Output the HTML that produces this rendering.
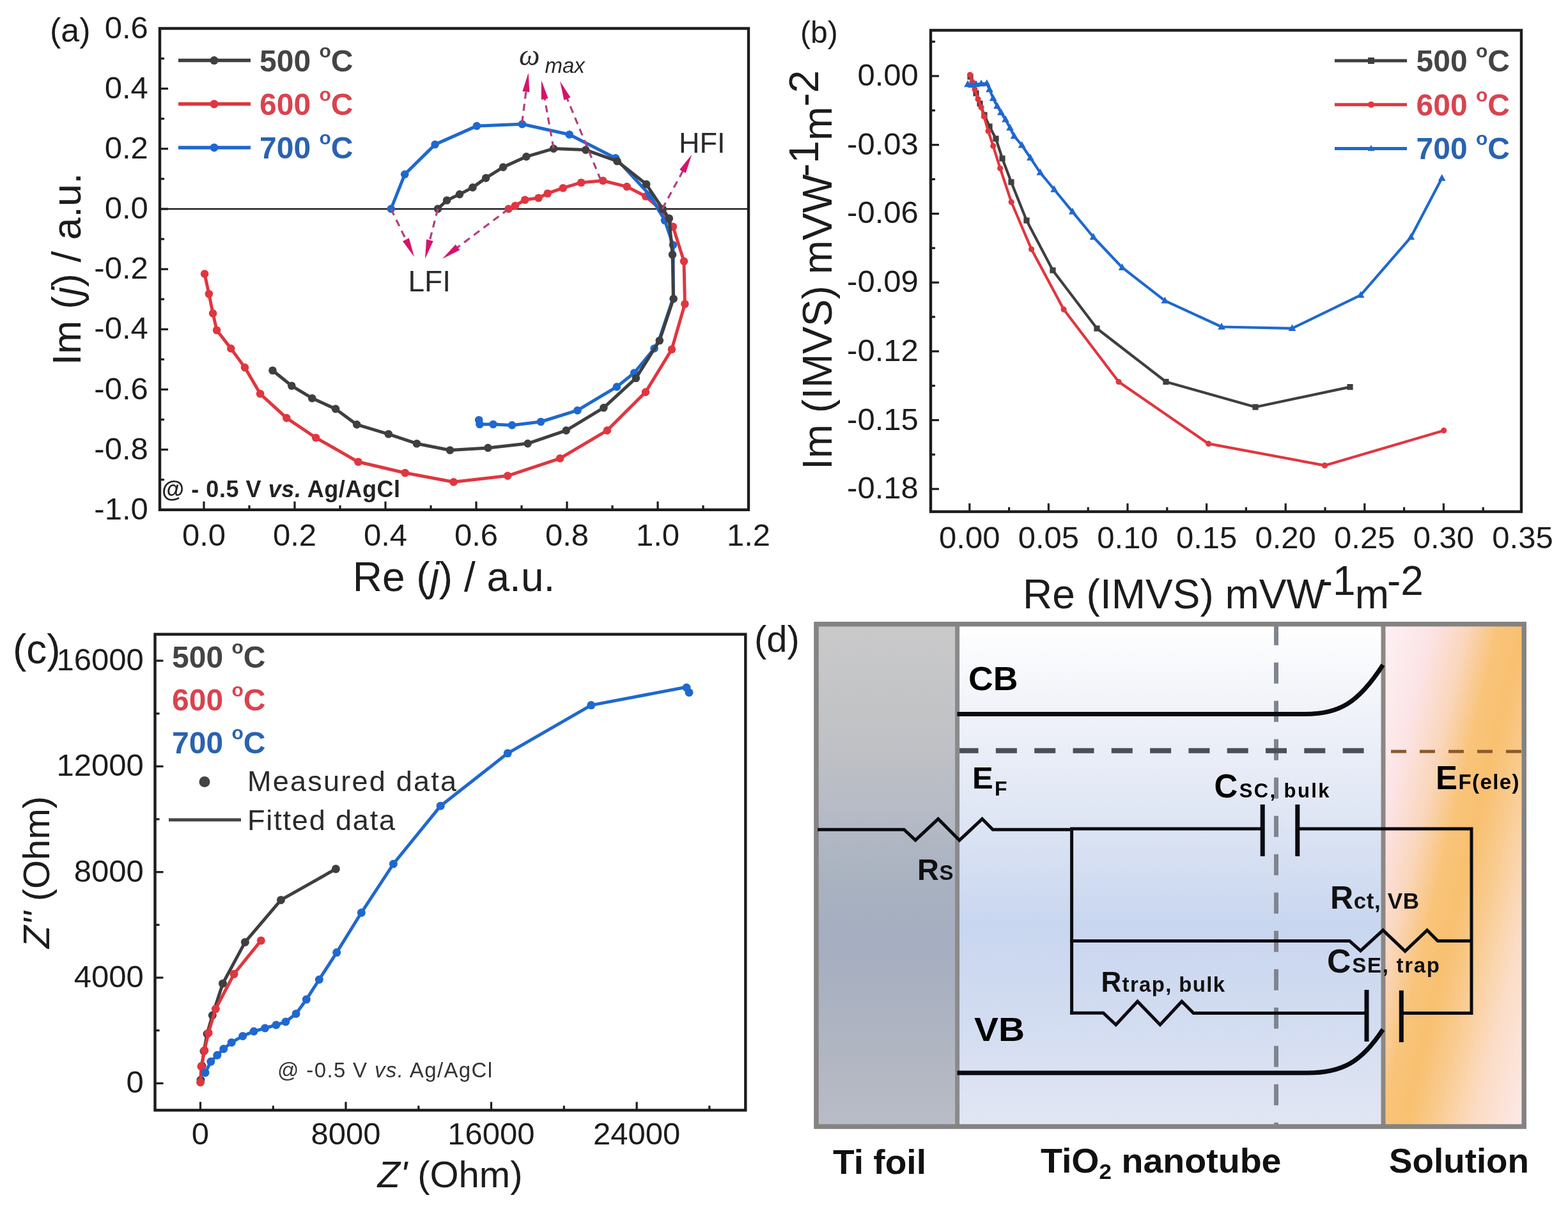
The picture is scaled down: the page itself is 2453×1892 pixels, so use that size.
<!DOCTYPE html><html><head><meta charset="utf-8"><title>Figure</title><style>html,body{margin:0;padding:0;background:#fff;overflow:hidden;width:2453px;height:1892px;}svg{display:block;}</style></head><body>
<svg width="2453" height="1892" viewBox="0 0 2453 1892">
<rect width="2453" height="1892" fill="#fff"/>
<defs>
<linearGradient id="gTi" x1="0" y1="0" x2="0" y2="1">
 <stop offset="0" stop-color="#c9c9ca"/><stop offset="0.16" stop-color="#c3c4c6"/>
 <stop offset="0.26" stop-color="#bec0c5"/><stop offset="0.37" stop-color="#b6bbc6"/>
 <stop offset="0.51" stop-color="#a9b2c0"/><stop offset="0.64" stop-color="#a5aec1"/>
 <stop offset="0.73" stop-color="#aab1c0"/><stop offset="0.86" stop-color="#b1b6c2"/>
 <stop offset="1" stop-color="#b8bcc6"/>
</linearGradient>
<linearGradient id="gTiO2" x1="0" y1="0" x2="0" y2="1">
 <stop offset="0" stop-color="#ffffff"/><stop offset="0.15" stop-color="#f2f4fa"/>
 <stop offset="0.38" stop-color="#dfe6f4"/><stop offset="0.6" stop-color="#c8d6ef"/>
 <stop offset="0.8" stop-color="#d3ddf1"/><stop offset="1" stop-color="#e2e6f3"/>
</linearGradient>
<linearGradient id="gSol" gradientUnits="userSpaceOnUse" x1="2077.7" y1="1325.2" x2="2457.3" y2="1414.8">
 <stop offset="0" stop-color="#fdf2f4"/><stop offset="0.2" stop-color="#fce4e6"/>
 <stop offset="0.34" stop-color="#fad6bc"/><stop offset="0.46" stop-color="#f9c47a"/>
 <stop offset="0.56" stop-color="#f8c070"/><stop offset="0.66" stop-color="#f9ca8c"/>
 <stop offset="0.82" stop-color="#fbdcc4"/><stop offset="1" stop-color="#fde8e6"/>
</linearGradient>
</defs>
<rect x="1277" y="976.7" width="220.5999999999999" height="786.3" fill="url(#gTi)"/>
<rect x="1497.6" y="976.7" width="666.4000000000001" height="786.3" fill="url(#gTiO2)"/>
<rect x="2164" y="976.7" width="220.19999999999982" height="786.3" fill="url(#gSol)"/>
<line x1="1996.5" y1="976.7" x2="1996.5" y2="1763" stroke="#7f858f" stroke-width="7" stroke-dasharray="33 27"/>
<line x1="1497.6" y1="1174.8" x2="2164" y2="1174.8" stroke="#4b5058" stroke-width="8" stroke-dasharray="33 27.3"/>
<line x1="2176" y1="1176" x2="2383" y2="1176" stroke="#8b5a2b" stroke-width="5" stroke-dasharray="24 21"/>
<line x1="1497.6" y1="976.7" x2="1497.6" y2="1763" stroke="#8a8a8a" stroke-width="7" />
<line x1="2164" y1="976.7" x2="2164" y2="1763" stroke="#8c8781" stroke-width="7" />
<rect x="1277" y="976.7" width="1107.1999999999998" height="786.3" fill="none" stroke="#848382" stroke-width="7.5"/>
<path d="M1497.5,1117.6 H2040 C2095,1118 2125,1100 2163.5,1040.5" fill="none" stroke="#0b0b10" stroke-width="7" stroke-linejoin="round"/>
<path d="M1497.5,1679 H2045 C2100,1679 2130,1662 2163.5,1611" fill="none" stroke="#0b0b10" stroke-width="7" stroke-linejoin="round"/>
<path d="M1279,1298.2 H1414.3 L1432.1,1314.9 L1467.7,1281.6 L1501,1314.9 L1536.5,1281.6 L1553.1,1298.2 H1678" fill="none" stroke="#0b0b10" stroke-width="5" stroke-linejoin="miter"/>
<path d="M1676.6,1296 V1587.5" fill="none" stroke="#0b0b10" stroke-width="5" stroke-linejoin="miter"/>
<path d="M1674,1297 H1975.2 M2029.8,1297 H2302 V1588" fill="none" stroke="#0b0b10" stroke-width="5" stroke-linejoin="miter"/>
<path d="M1975.2,1259 V1340 M2029.8,1259 V1340" fill="none" stroke="#0b0b10" stroke-width="7" stroke-linejoin="miter"/>
<path d="M1674,1472.4 H2111.2 L2128.5,1487.9 L2163.6,1455.7 L2198.1,1488.5 L2232.6,1455.7 L2249.3,1472.4 H2304" fill="none" stroke="#0b0b10" stroke-width="5" stroke-linejoin="miter"/>
<path d="M1674,1585.3 H1726.1 L1745.7,1603.7 L1779.6,1567.2 L1814.9,1603.7 L1848.8,1567.2 L1867.1,1585.4 H2137.5" fill="none" stroke="#0b0b10" stroke-width="5" stroke-linejoin="miter"/>
<path d="M2138,1549 V1630 M2192.3,1550 V1631" fill="none" stroke="#0b0b10" stroke-width="7" stroke-linejoin="miter"/>
<path d="M2192.3,1585.5 H2304" fill="none" stroke="#0b0b10" stroke-width="5" stroke-linejoin="miter"/>
<text x="1515" y="1079.6" font-size="52" text-anchor="start" font-weight="bold" font-style="normal" fill="#000" font-family='"Liberation Sans", Arial, Helvetica, sans-serif' textLength="77.5" lengthAdjust="spacingAndGlyphs">CB</text>
<text x="1521" y="1233.7" font-size="49" text-anchor="start" font-weight="bold" font-style="normal" fill="#000" font-family='"Liberation Sans", Arial, Helvetica, sans-serif' textLength="54.5">E<tspan font-size="32" dy="11">F</tspan></text>
<text x="1899.5" y="1248.4" font-size="51" text-anchor="start" font-weight="bold" font-style="normal" fill="#000" font-family='"Liberation Sans", Arial, Helvetica, sans-serif' textLength="180">C<tspan font-size="31">SC, bulk</tspan></text>
<text x="2246" y="1235.4" font-size="51" text-anchor="start" font-weight="bold" font-style="normal" fill="#000" font-family='"Liberation Sans", Arial, Helvetica, sans-serif' textLength="130.5">E<tspan font-size="33">F(ele)</tspan></text>
<text x="1435" y="1376.6" font-size="47" text-anchor="start" font-weight="bold" font-style="normal" fill="#111" font-family='"Liberation Sans", Arial, Helvetica, sans-serif' >R<tspan font-size="33" dx="0.5">S</tspan></text>
<text x="2081" y="1421.8" font-size="50" text-anchor="start" font-weight="bold" font-style="normal" fill="#111" font-family='"Liberation Sans", Arial, Helvetica, sans-serif' textLength="139">R<tspan font-size="35">ct, VB</tspan></text>
<text x="2076" y="1522" font-size="52" text-anchor="start" font-weight="bold" font-style="normal" fill="#111" font-family='"Liberation Sans", Arial, Helvetica, sans-serif' textLength="176">C<tspan font-size="33">SE, trap</tspan></text>
<text x="1722.5" y="1551.5" font-size="44" text-anchor="start" font-weight="bold" font-style="normal" fill="#111" font-family='"Liberation Sans", Arial, Helvetica, sans-serif' textLength="193.5">R<tspan font-size="33">trap, bulk</tspan></text>
<text x="1524" y="1628.5" font-size="51" text-anchor="start" font-weight="bold" font-style="normal" fill="#000" font-family='"Liberation Sans", Arial, Helvetica, sans-serif' textLength="79" lengthAdjust="spacingAndGlyphs">VB</text>
<text x="1303" y="1836.8" font-size="54" text-anchor="start" font-weight="bold" font-style="normal" fill="#111" font-family='"Liberation Sans", Arial, Helvetica, sans-serif' textLength="146" lengthAdjust="spacingAndGlyphs">Ti foil</text>
<text x="1628" y="1835.2" font-size="54" text-anchor="start" font-weight="bold" font-style="normal" fill="#111" font-family='"Liberation Sans", Arial, Helvetica, sans-serif' textLength="376.5" lengthAdjust="spacingAndGlyphs">TiO<tspan font-size="34" dy="10">2</tspan><tspan dy="-10"> nanotube</tspan></text>
<text x="2173" y="1835.2" font-size="54" text-anchor="start" font-weight="bold" font-style="normal" fill="#111" font-family='"Liberation Sans", Arial, Helvetica, sans-serif' textLength="219" lengthAdjust="spacingAndGlyphs">Solution</text>
<text x="1180" y="1019.5" font-size="58" text-anchor="start" font-weight="normal" font-style="normal" fill="#1c1c1c" font-family='"Liberation Sans", Arial, Helvetica, sans-serif' >(d)</text>
<line x1="250" y1="327" x2="1171" y2="327" stroke="#1c1c1c" stroke-width="2.6" />
<line x1="250" y1="750.7" x2="257" y2="750.7" stroke="#1c1c1c" stroke-width="3.2" />
<line x1="250" y1="703.6" x2="263" y2="703.6" stroke="#1c1c1c" stroke-width="3.2" />
<line x1="250" y1="656.6" x2="257" y2="656.6" stroke="#1c1c1c" stroke-width="3.2" />
<line x1="250" y1="609.5" x2="263" y2="609.5" stroke="#1c1c1c" stroke-width="3.2" />
<line x1="250" y1="562.4" x2="257" y2="562.4" stroke="#1c1c1c" stroke-width="3.2" />
<line x1="250" y1="515.3" x2="263" y2="515.3" stroke="#1c1c1c" stroke-width="3.2" />
<line x1="250" y1="468.2" x2="257" y2="468.2" stroke="#1c1c1c" stroke-width="3.2" />
<line x1="250" y1="421.2" x2="263" y2="421.2" stroke="#1c1c1c" stroke-width="3.2" />
<line x1="250" y1="374.1" x2="257" y2="374.1" stroke="#1c1c1c" stroke-width="3.2" />
<line x1="250" y1="327" x2="263" y2="327" stroke="#1c1c1c" stroke-width="3.2" />
<line x1="250" y1="279.9" x2="257" y2="279.9" stroke="#1c1c1c" stroke-width="3.2" />
<line x1="250" y1="232.8" x2="263" y2="232.8" stroke="#1c1c1c" stroke-width="3.2" />
<line x1="250" y1="185.8" x2="257" y2="185.8" stroke="#1c1c1c" stroke-width="3.2" />
<line x1="250" y1="138.7" x2="263" y2="138.7" stroke="#1c1c1c" stroke-width="3.2" />
<line x1="250" y1="91.6" x2="257" y2="91.6" stroke="#1c1c1c" stroke-width="3.2" />
<line x1="319" y1="797.8" x2="319" y2="784.8" stroke="#1c1c1c" stroke-width="3.2" />
<line x1="390" y1="797.8" x2="390" y2="790.8" stroke="#1c1c1c" stroke-width="3.2" />
<line x1="461" y1="797.8" x2="461" y2="784.8" stroke="#1c1c1c" stroke-width="3.2" />
<line x1="532" y1="797.8" x2="532" y2="790.8" stroke="#1c1c1c" stroke-width="3.2" />
<line x1="603" y1="797.8" x2="603" y2="784.8" stroke="#1c1c1c" stroke-width="3.2" />
<line x1="674" y1="797.8" x2="674" y2="790.8" stroke="#1c1c1c" stroke-width="3.2" />
<line x1="745" y1="797.8" x2="745" y2="784.8" stroke="#1c1c1c" stroke-width="3.2" />
<line x1="816" y1="797.8" x2="816" y2="790.8" stroke="#1c1c1c" stroke-width="3.2" />
<line x1="887" y1="797.8" x2="887" y2="784.8" stroke="#1c1c1c" stroke-width="3.2" />
<line x1="958" y1="797.8" x2="958" y2="790.8" stroke="#1c1c1c" stroke-width="3.2" />
<line x1="1029" y1="797.8" x2="1029" y2="784.8" stroke="#1c1c1c" stroke-width="3.2" />
<line x1="1100" y1="797.8" x2="1100" y2="790.8" stroke="#1c1c1c" stroke-width="3.2" />
<rect x="250" y="44.5" width="921" height="753.3" fill="none" stroke="#1c1c1c" stroke-width="4.4"/>
<text x="231.8" y="812.8" font-size="49" text-anchor="end" font-weight="normal" font-style="normal" fill="#1c1c1c" font-family='"Liberation Sans", Arial, Helvetica, sans-serif' >-1.0</text>
<text x="231.8" y="718.6" font-size="49" text-anchor="end" font-weight="normal" font-style="normal" fill="#1c1c1c" font-family='"Liberation Sans", Arial, Helvetica, sans-serif' >-0.8</text>
<text x="231.8" y="624.5" font-size="49" text-anchor="end" font-weight="normal" font-style="normal" fill="#1c1c1c" font-family='"Liberation Sans", Arial, Helvetica, sans-serif' >-0.6</text>
<text x="231.8" y="530.3" font-size="49" text-anchor="end" font-weight="normal" font-style="normal" fill="#1c1c1c" font-family='"Liberation Sans", Arial, Helvetica, sans-serif' >-0.4</text>
<text x="231.8" y="436.2" font-size="49" text-anchor="end" font-weight="normal" font-style="normal" fill="#1c1c1c" font-family='"Liberation Sans", Arial, Helvetica, sans-serif' >-0.2</text>
<text x="231.8" y="342" font-size="49" text-anchor="end" font-weight="normal" font-style="normal" fill="#1c1c1c" font-family='"Liberation Sans", Arial, Helvetica, sans-serif' >0.0</text>
<text x="231.8" y="247.8" font-size="49" text-anchor="end" font-weight="normal" font-style="normal" fill="#1c1c1c" font-family='"Liberation Sans", Arial, Helvetica, sans-serif' >0.2</text>
<text x="231.8" y="153.7" font-size="49" text-anchor="end" font-weight="normal" font-style="normal" fill="#1c1c1c" font-family='"Liberation Sans", Arial, Helvetica, sans-serif' >0.4</text>
<text x="231.8" y="59.5" font-size="49" text-anchor="end" font-weight="normal" font-style="normal" fill="#1c1c1c" font-family='"Liberation Sans", Arial, Helvetica, sans-serif' >0.6</text>
<text x="319" y="854.3" font-size="49" text-anchor="middle" font-weight="normal" font-style="normal" fill="#1c1c1c" font-family='"Liberation Sans", Arial, Helvetica, sans-serif' >0.0</text>
<text x="461" y="854.3" font-size="49" text-anchor="middle" font-weight="normal" font-style="normal" fill="#1c1c1c" font-family='"Liberation Sans", Arial, Helvetica, sans-serif' >0.2</text>
<text x="603" y="854.3" font-size="49" text-anchor="middle" font-weight="normal" font-style="normal" fill="#1c1c1c" font-family='"Liberation Sans", Arial, Helvetica, sans-serif' >0.4</text>
<text x="745" y="854.3" font-size="49" text-anchor="middle" font-weight="normal" font-style="normal" fill="#1c1c1c" font-family='"Liberation Sans", Arial, Helvetica, sans-serif' >0.6</text>
<text x="887" y="854.3" font-size="49" text-anchor="middle" font-weight="normal" font-style="normal" fill="#1c1c1c" font-family='"Liberation Sans", Arial, Helvetica, sans-serif' >0.8</text>
<text x="1029" y="854.3" font-size="49" text-anchor="middle" font-weight="normal" font-style="normal" fill="#1c1c1c" font-family='"Liberation Sans", Arial, Helvetica, sans-serif' >1.0</text>
<text x="1171" y="854.3" font-size="49" text-anchor="middle" font-weight="normal" font-style="normal" fill="#1c1c1c" font-family='"Liberation Sans", Arial, Helvetica, sans-serif' >1.2</text>
<text x="710" y="925" font-size="64" text-anchor="middle" font-weight="normal" font-style="normal" fill="#1c1c1c" font-family='"Liberation Sans", Arial, Helvetica, sans-serif' >Re (<tspan font-style="italic">j</tspan>) / a.u.</text>
<text transform="translate(126,421) rotate(-90)" font-size="63" text-anchor="middle" fill="#1c1c1c" font-family='"Liberation Sans", Arial, Helvetica, sans-serif'>Im (<tspan font-style="italic">j</tspan>) / a.u.</text>
<text x="78" y="64.5" font-size="52" text-anchor="start" font-weight="normal" font-style="normal" fill="#1c1c1c" font-family='"Liberation Sans", Arial, Helvetica, sans-serif' >(a)</text>
<polyline points="795.6,326.9 806,322 821.2,312.7 842.5,309.8 856.7,302.7 880.8,294.2 909.2,285.7 943.2,282.8 980.7,292.1 1010.2,307.3 1034,328 1052.9,354.8 1070,408.9 1071.4,475.7 1050.9,546.7 1010,613.6 949.9,673.6 876.1,717.3 794.2,744.6 709.6,754.2 633.7,740 560.4,722.8 494.1,685 448.3,654.1 407.1,616.3 383,575.1 361.3,545.4 339.1,516.8 333.1,490.4 326.9,460 320.1,428.6" fill="none" stroke="#e0363f" stroke-width="5" stroke-linejoin="round" stroke-linecap="round"/>
<circle cx="795.6" cy="326.9" r="6.3" fill="#e0363f"/>
<circle cx="806" cy="322" r="6.3" fill="#e0363f"/>
<circle cx="821.2" cy="312.7" r="6.3" fill="#e0363f"/>
<circle cx="842.5" cy="309.8" r="6.3" fill="#e0363f"/>
<circle cx="856.7" cy="302.7" r="6.3" fill="#e0363f"/>
<circle cx="880.8" cy="294.2" r="6.3" fill="#e0363f"/>
<circle cx="909.2" cy="285.7" r="6.3" fill="#e0363f"/>
<circle cx="943.2" cy="282.8" r="6.3" fill="#e0363f"/>
<circle cx="980.7" cy="292.1" r="6.3" fill="#e0363f"/>
<circle cx="1010.2" cy="307.3" r="6.3" fill="#e0363f"/>
<circle cx="1034" cy="328" r="6.3" fill="#e0363f"/>
<circle cx="1052.9" cy="354.8" r="6.3" fill="#e0363f"/>
<circle cx="1070" cy="408.9" r="6.3" fill="#e0363f"/>
<circle cx="1071.4" cy="475.7" r="6.3" fill="#e0363f"/>
<circle cx="1050.9" cy="546.7" r="6.3" fill="#e0363f"/>
<circle cx="1010" cy="613.6" r="6.3" fill="#e0363f"/>
<circle cx="949.9" cy="673.6" r="6.3" fill="#e0363f"/>
<circle cx="876.1" cy="717.3" r="6.3" fill="#e0363f"/>
<circle cx="794.2" cy="744.6" r="6.3" fill="#e0363f"/>
<circle cx="709.6" cy="754.2" r="6.3" fill="#e0363f"/>
<circle cx="633.7" cy="740" r="6.3" fill="#e0363f"/>
<circle cx="560.4" cy="722.8" r="6.3" fill="#e0363f"/>
<circle cx="494.1" cy="685" r="6.3" fill="#e0363f"/>
<circle cx="448.3" cy="654.1" r="6.3" fill="#e0363f"/>
<circle cx="407.1" cy="616.3" r="6.3" fill="#e0363f"/>
<circle cx="383" cy="575.1" r="6.3" fill="#e0363f"/>
<circle cx="361.3" cy="545.4" r="6.3" fill="#e0363f"/>
<circle cx="339.1" cy="516.8" r="6.3" fill="#e0363f"/>
<circle cx="333.1" cy="490.4" r="6.3" fill="#e0363f"/>
<circle cx="326.9" cy="460" r="6.3" fill="#e0363f"/>
<circle cx="320.1" cy="428.6" r="6.3" fill="#e0363f"/>
<polyline points="611.7,326.9 633.2,272.9 680.6,226.1 745.9,197.1 816.9,194.3 890.7,210.5 963.1,247.4 1017,305.6 1040,345 1052.9,383.3 1053.2,402 1053.2,466 1031,532 1023.6,545.3 992.2,583.5 964.9,605.4 903.4,642.2 846.1,660 801,665.4 771.5,664 750.5,664 749.2,657.2" fill="none" stroke="#1f68cf" stroke-width="5" stroke-linejoin="round" stroke-linecap="round"/>
<circle cx="611.7" cy="326.9" r="6.3" fill="#1f68cf"/>
<circle cx="633.2" cy="272.9" r="6.3" fill="#1f68cf"/>
<circle cx="680.6" cy="226.1" r="6.3" fill="#1f68cf"/>
<circle cx="745.9" cy="197.1" r="6.3" fill="#1f68cf"/>
<circle cx="816.9" cy="194.3" r="6.3" fill="#1f68cf"/>
<circle cx="890.7" cy="210.5" r="6.3" fill="#1f68cf"/>
<circle cx="963.1" cy="247.4" r="6.3" fill="#1f68cf"/>
<circle cx="1017" cy="305.6" r="6.3" fill="#1f68cf"/>
<circle cx="1040" cy="345" r="6.3" fill="#1f68cf"/>
<circle cx="1052.9" cy="383.3" r="6.3" fill="#1f68cf"/>
<circle cx="1023.6" cy="545.3" r="6.3" fill="#1f68cf"/>
<circle cx="992.2" cy="583.5" r="6.3" fill="#1f68cf"/>
<circle cx="964.9" cy="605.4" r="6.3" fill="#1f68cf"/>
<circle cx="903.4" cy="642.2" r="6.3" fill="#1f68cf"/>
<circle cx="846.1" cy="660" r="6.3" fill="#1f68cf"/>
<circle cx="801" cy="665.4" r="6.3" fill="#1f68cf"/>
<circle cx="771.5" cy="664" r="6.3" fill="#1f68cf"/>
<circle cx="750.5" cy="664" r="6.3" fill="#1f68cf"/>
<circle cx="749.2" cy="657.2" r="6.3" fill="#1f68cf"/>
<polyline points="684.9,326.9 699.1,313.5 719,304.1 739.4,293.4 760.1,278.6 787.1,261.6 823.4,245.1 866,232.6 916.3,234.6 965.5,252.2 1011.1,288.3 1036.8,327.2 1046.8,341.8 1052,398.5 1053.6,467.5 1031.8,533 994.9,591.7 944.4,638.1 885.7,673.6 825.6,694.1 763.4,700.9 704,704.5 652,694.2 607.8,679.3 558.2,664.4 525,639.9 488.3,623.2 456.3,603.8 426.5,579.7" fill="none" stroke="#3f3f3f" stroke-width="5" stroke-linejoin="round" stroke-linecap="round"/>
<circle cx="684.9" cy="326.9" r="6.3" fill="#3f3f3f"/>
<circle cx="699.1" cy="313.5" r="6.3" fill="#3f3f3f"/>
<circle cx="719" cy="304.1" r="6.3" fill="#3f3f3f"/>
<circle cx="739.4" cy="293.4" r="6.3" fill="#3f3f3f"/>
<circle cx="760.1" cy="278.6" r="6.3" fill="#3f3f3f"/>
<circle cx="787.1" cy="261.6" r="6.3" fill="#3f3f3f"/>
<circle cx="823.4" cy="245.1" r="6.3" fill="#3f3f3f"/>
<circle cx="866" cy="232.6" r="6.3" fill="#3f3f3f"/>
<circle cx="916.3" cy="234.6" r="6.3" fill="#3f3f3f"/>
<circle cx="965.5" cy="252.2" r="6.3" fill="#3f3f3f"/>
<circle cx="1011.1" cy="288.3" r="6.3" fill="#3f3f3f"/>
<circle cx="1036.8" cy="327.2" r="6.3" fill="#3f3f3f"/>
<circle cx="1046.8" cy="341.8" r="6.3" fill="#3f3f3f"/>
<circle cx="1052" cy="398.5" r="6.3" fill="#3f3f3f"/>
<circle cx="1053.6" cy="467.5" r="6.3" fill="#3f3f3f"/>
<circle cx="1031.8" cy="533" r="6.3" fill="#3f3f3f"/>
<circle cx="994.9" cy="591.7" r="6.3" fill="#3f3f3f"/>
<circle cx="944.4" cy="638.1" r="6.3" fill="#3f3f3f"/>
<circle cx="885.7" cy="673.6" r="6.3" fill="#3f3f3f"/>
<circle cx="825.6" cy="694.1" r="6.3" fill="#3f3f3f"/>
<circle cx="763.4" cy="700.9" r="6.3" fill="#3f3f3f"/>
<circle cx="704" cy="704.5" r="6.3" fill="#3f3f3f"/>
<circle cx="652" cy="694.2" r="6.3" fill="#3f3f3f"/>
<circle cx="607.8" cy="679.3" r="6.3" fill="#3f3f3f"/>
<circle cx="558.2" cy="664.4" r="6.3" fill="#3f3f3f"/>
<circle cx="525" cy="639.9" r="6.3" fill="#3f3f3f"/>
<circle cx="488.3" cy="623.2" r="6.3" fill="#3f3f3f"/>
<circle cx="456.3" cy="603.8" r="6.3" fill="#3f3f3f"/>
<circle cx="426.5" cy="579.7" r="6.3" fill="#3f3f3f"/>
<line x1="279" y1="94.6" x2="392" y2="94.6" stroke="#3f3f3f" stroke-width="5.5" />
<circle cx="335" cy="94.6" r="6.5" fill="#3f3f3f"/>
<text x="406" y="111.8" font-size="48" text-anchor="start" font-weight="bold" font-style="normal" fill="#444444" font-family='"Liberation Sans", Arial, Helvetica, sans-serif' >500 <tspan font-size="30" dy="-22">o</tspan><tspan dy="22">C</tspan></text>
<line x1="279" y1="162.8" x2="392" y2="162.8" stroke="#e0363f" stroke-width="5.5" />
<circle cx="335" cy="162.8" r="6.5" fill="#e0363f"/>
<text x="406" y="180" font-size="48" text-anchor="start" font-weight="bold" font-style="normal" fill="#d9434f" font-family='"Liberation Sans", Arial, Helvetica, sans-serif' >600 <tspan font-size="30" dy="-22">o</tspan><tspan dy="22">C</tspan></text>
<line x1="279" y1="231" x2="392" y2="231" stroke="#1f68cf" stroke-width="5.5" />
<circle cx="335" cy="231" r="6.5" fill="#1f68cf"/>
<text x="406" y="248.2" font-size="48" text-anchor="start" font-weight="bold" font-style="normal" fill="#2a62b0" font-family='"Liberation Sans", Arial, Helvetica, sans-serif' >700 <tspan font-size="30" dy="-22">o</tspan><tspan dy="22">C</tspan></text>
<text x="253" y="777.8" font-size="36" text-anchor="start" font-weight="bold" font-style="normal" fill="#222" font-family='"Liberation Sans", Arial, Helvetica, sans-serif' textLength="373" lengthAdjust="spacing">@ - 0.5 V <tspan font-style="italic">vs.</tspan> Ag/AgCl</text>
<text x="638.5" y="455.5" font-size="46" text-anchor="start" font-weight="normal" font-style="normal" fill="#2a2a2a" font-family='"Liberation Sans", Arial, Helvetica, sans-serif' >LFI</text>
<text x="1062" y="238.5" font-size="45" text-anchor="start" font-weight="normal" font-style="normal" fill="#2a2a2a" font-family='"Liberation Sans", Arial, Helvetica, sans-serif' >HFI</text>
<text x="812" y="102" font-size="46" text-anchor="start" font-weight="normal" font-style="italic" fill="#2a2a2a" font-family='"Liberation Serif", "Times New Roman", serif' >&#969;</text>
<text x="852.5" y="113.7" font-size="33" text-anchor="start" font-weight="normal" font-style="italic" fill="#2a2a2a" font-family='"Liberation Sans", Arial, Helvetica, sans-serif' >max</text>
<line x1="816.6" y1="192.3" x2="823.4" y2="139.5" stroke="#b2407e" stroke-width="3.2" stroke-dasharray="11 8"/>
<polygon points="826.7,113.7 828.3,144.2 817.4,142.8" fill="#d6136a"/>
<line x1="866" y1="232" x2="851.5" y2="151" stroke="#b2407e" stroke-width="3.2" stroke-dasharray="11 8"/>
<polygon points="846.9,125.4 857.6,154 846.8,155.9" fill="#d6136a"/>
<line x1="940" y1="282" x2="885.9" y2="151" stroke="#b2407e" stroke-width="3.2" stroke-dasharray="11 8"/>
<polygon points="876,127 892.5,152.6 882.4,156.8" fill="#d6136a"/>
<line x1="611.7" y1="326.9" x2="636.7" y2="378.6" stroke="#b2407e" stroke-width="3.2" stroke-dasharray="11 8"/>
<polygon points="648,402 630,377.4 639.9,372.6" fill="#d6136a"/>
<line x1="684.9" y1="326.9" x2="671.4" y2="379.8" stroke="#b2407e" stroke-width="3.2" stroke-dasharray="11 8"/>
<polygon points="665,405 667.1,374.6 677.7,377.3" fill="#d6136a"/>
<line x1="795.6" y1="327" x2="712.8" y2="389.4" stroke="#b2407e" stroke-width="3.2" stroke-dasharray="11 8"/>
<polygon points="692,405 712.7,382.6 719.3,391.3" fill="#d6136a"/>
<line x1="1036" y1="327" x2="1069.9" y2="264.6" stroke="#b2407e" stroke-width="3.2" stroke-dasharray="11 8"/>
<polygon points="1082.3,241.7 1072.8,270.7 1063.2,265.4" fill="#d6136a"/>
<line x1="1456" y1="765.2" x2="1469" y2="765.2" stroke="#1c1c1c" stroke-width="3.2" />
<line x1="1456" y1="711.3" x2="1463" y2="711.3" stroke="#1c1c1c" stroke-width="3.2" />
<line x1="1456" y1="657.5" x2="1469" y2="657.5" stroke="#1c1c1c" stroke-width="3.2" />
<line x1="1456" y1="603.7" x2="1463" y2="603.7" stroke="#1c1c1c" stroke-width="3.2" />
<line x1="1456" y1="549.8" x2="1469" y2="549.8" stroke="#1c1c1c" stroke-width="3.2" />
<line x1="1456" y1="495.9" x2="1463" y2="495.9" stroke="#1c1c1c" stroke-width="3.2" />
<line x1="1456" y1="442.1" x2="1469" y2="442.1" stroke="#1c1c1c" stroke-width="3.2" />
<line x1="1456" y1="388.2" x2="1463" y2="388.2" stroke="#1c1c1c" stroke-width="3.2" />
<line x1="1456" y1="334.4" x2="1469" y2="334.4" stroke="#1c1c1c" stroke-width="3.2" />
<line x1="1456" y1="280.5" x2="1463" y2="280.5" stroke="#1c1c1c" stroke-width="3.2" />
<line x1="1456" y1="226.7" x2="1469" y2="226.7" stroke="#1c1c1c" stroke-width="3.2" />
<line x1="1456" y1="172.8" x2="1463" y2="172.8" stroke="#1c1c1c" stroke-width="3.2" />
<line x1="1456" y1="119" x2="1469" y2="119" stroke="#1c1c1c" stroke-width="3.2" />
<line x1="1456" y1="65.2" x2="1463" y2="65.2" stroke="#1c1c1c" stroke-width="3.2" />
<line x1="1516.8" y1="800.7" x2="1516.8" y2="787.7" stroke="#1c1c1c" stroke-width="3.2" />
<line x1="1578.6" y1="800.7" x2="1578.6" y2="793.7" stroke="#1c1c1c" stroke-width="3.2" />
<line x1="1640.4" y1="800.7" x2="1640.4" y2="787.7" stroke="#1c1c1c" stroke-width="3.2" />
<line x1="1702.2" y1="800.7" x2="1702.2" y2="793.7" stroke="#1c1c1c" stroke-width="3.2" />
<line x1="1764" y1="800.7" x2="1764" y2="787.7" stroke="#1c1c1c" stroke-width="3.2" />
<line x1="1825.8" y1="800.7" x2="1825.8" y2="793.7" stroke="#1c1c1c" stroke-width="3.2" />
<line x1="1887.6" y1="800.7" x2="1887.6" y2="787.7" stroke="#1c1c1c" stroke-width="3.2" />
<line x1="1949.4" y1="800.7" x2="1949.4" y2="793.7" stroke="#1c1c1c" stroke-width="3.2" />
<line x1="2011.2" y1="800.7" x2="2011.2" y2="787.7" stroke="#1c1c1c" stroke-width="3.2" />
<line x1="2073" y1="800.7" x2="2073" y2="793.7" stroke="#1c1c1c" stroke-width="3.2" />
<line x1="2134.8" y1="800.7" x2="2134.8" y2="787.7" stroke="#1c1c1c" stroke-width="3.2" />
<line x1="2196.6" y1="800.7" x2="2196.6" y2="793.7" stroke="#1c1c1c" stroke-width="3.2" />
<line x1="2258.4" y1="800.7" x2="2258.4" y2="787.7" stroke="#1c1c1c" stroke-width="3.2" />
<line x1="2320.2" y1="800.7" x2="2320.2" y2="793.7" stroke="#1c1c1c" stroke-width="3.2" />
<rect x="1456" y="47.4" width="924" height="753.3" fill="none" stroke="#1c1c1c" stroke-width="4.4"/>
<text x="1436.8" y="134" font-size="49" text-anchor="end" font-weight="normal" font-style="normal" fill="#1c1c1c" font-family='"Liberation Sans", Arial, Helvetica, sans-serif' >0.00</text>
<text x="1436.8" y="241.7" font-size="49" text-anchor="end" font-weight="normal" font-style="normal" fill="#1c1c1c" font-family='"Liberation Sans", Arial, Helvetica, sans-serif' >-0.03</text>
<text x="1436.8" y="349.4" font-size="49" text-anchor="end" font-weight="normal" font-style="normal" fill="#1c1c1c" font-family='"Liberation Sans", Arial, Helvetica, sans-serif' >-0.06</text>
<text x="1436.8" y="457.1" font-size="49" text-anchor="end" font-weight="normal" font-style="normal" fill="#1c1c1c" font-family='"Liberation Sans", Arial, Helvetica, sans-serif' >-0.09</text>
<text x="1436.8" y="564.8" font-size="49" text-anchor="end" font-weight="normal" font-style="normal" fill="#1c1c1c" font-family='"Liberation Sans", Arial, Helvetica, sans-serif' >-0.12</text>
<text x="1436.8" y="672.5" font-size="49" text-anchor="end" font-weight="normal" font-style="normal" fill="#1c1c1c" font-family='"Liberation Sans", Arial, Helvetica, sans-serif' >-0.15</text>
<text x="1436.8" y="780.2" font-size="49" text-anchor="end" font-weight="normal" font-style="normal" fill="#1c1c1c" font-family='"Liberation Sans", Arial, Helvetica, sans-serif' >-0.18</text>
<text x="1516.8" y="858.3" font-size="49" text-anchor="middle" font-weight="normal" font-style="normal" fill="#1c1c1c" font-family='"Liberation Sans", Arial, Helvetica, sans-serif' >0.00</text>
<text x="1640.4" y="858.3" font-size="49" text-anchor="middle" font-weight="normal" font-style="normal" fill="#1c1c1c" font-family='"Liberation Sans", Arial, Helvetica, sans-serif' >0.05</text>
<text x="1764" y="858.3" font-size="49" text-anchor="middle" font-weight="normal" font-style="normal" fill="#1c1c1c" font-family='"Liberation Sans", Arial, Helvetica, sans-serif' >0.10</text>
<text x="1887.6" y="858.3" font-size="49" text-anchor="middle" font-weight="normal" font-style="normal" fill="#1c1c1c" font-family='"Liberation Sans", Arial, Helvetica, sans-serif' >0.15</text>
<text x="2011.2" y="858.3" font-size="49" text-anchor="middle" font-weight="normal" font-style="normal" fill="#1c1c1c" font-family='"Liberation Sans", Arial, Helvetica, sans-serif' >0.20</text>
<text x="2134.8" y="858.3" font-size="49" text-anchor="middle" font-weight="normal" font-style="normal" fill="#1c1c1c" font-family='"Liberation Sans", Arial, Helvetica, sans-serif' >0.25</text>
<text x="2258.4" y="858.3" font-size="49" text-anchor="middle" font-weight="normal" font-style="normal" fill="#1c1c1c" font-family='"Liberation Sans", Arial, Helvetica, sans-serif' >0.30</text>
<text x="2382" y="858.3" font-size="49" text-anchor="middle" font-weight="normal" font-style="normal" fill="#1c1c1c" font-family='"Liberation Sans", Arial, Helvetica, sans-serif' >0.35</text>
<text x="1600" y="952" font-size="64" text-anchor="start" font-weight="normal" font-style="normal" fill="#1c1c1c" font-family='"Liberation Sans", Arial, Helvetica, sans-serif' >Re (IMVS) mVW<tspan dy="-21" dx="-8">-1</tspan><tspan dy="21" dx="-1">m</tspan><tspan dy="-21" dx="-3">-2</tspan></text>
<text transform="translate(1301,735) rotate(-90)" font-size="64" fill="#1c1c1c" font-family='"Liberation Sans", Arial, Helvetica, sans-serif'>Im (IMVS) mVW<tspan dy="-21" dx="-3">-1</tspan><tspan dy="21">m</tspan><tspan dy="-21">-2</tspan></text>
<text x="1252" y="67" font-size="48" text-anchor="start" font-weight="normal" font-style="normal" fill="#1c1c1c" font-family='"Liberation Sans", Arial, Helvetica, sans-serif' >(b)</text>
<polyline points="1518,120 1522,132 1527,146 1533,162 1540,180 1548,198 1558,217 1568,248 1582,285 1606,345 1647,423 1716,514 1824,597.5 1964,637 2112,605.6" fill="none" stroke="#3f3f3f" stroke-width="4.2" stroke-linejoin="round" stroke-linecap="round"/>
<rect x="1513.4" y="115.4" width="9.2" height="9.2" fill="#3f3f3f"/>
<rect x="1517.4" y="127.4" width="9.2" height="9.2" fill="#3f3f3f"/>
<rect x="1522.4" y="141.4" width="9.2" height="9.2" fill="#3f3f3f"/>
<rect x="1528.4" y="157.4" width="9.2" height="9.2" fill="#3f3f3f"/>
<rect x="1535.4" y="175.4" width="9.2" height="9.2" fill="#3f3f3f"/>
<rect x="1543.4" y="193.4" width="9.2" height="9.2" fill="#3f3f3f"/>
<rect x="1553.4" y="212.4" width="9.2" height="9.2" fill="#3f3f3f"/>
<rect x="1563.4" y="243.4" width="9.2" height="9.2" fill="#3f3f3f"/>
<rect x="1577.4" y="280.4" width="9.2" height="9.2" fill="#3f3f3f"/>
<rect x="1601.4" y="340.4" width="9.2" height="9.2" fill="#3f3f3f"/>
<rect x="1642.4" y="418.4" width="9.2" height="9.2" fill="#3f3f3f"/>
<rect x="1711.4" y="509.4" width="9.2" height="9.2" fill="#3f3f3f"/>
<rect x="1819.4" y="592.9" width="9.2" height="9.2" fill="#3f3f3f"/>
<rect x="1959.4" y="632.4" width="9.2" height="9.2" fill="#3f3f3f"/>
<rect x="2107.4" y="601" width="9.2" height="9.2" fill="#3f3f3f"/>
<polyline points="1517.5,117 1521,128 1525,140 1530,155 1535,168 1539.4,182.2 1546,205 1553.7,228.4 1564.7,263.5 1582.2,316.2 1613.6,390 1664.1,484.2 1750.1,597.5 1890.7,694.4 2072.4,728.4 2258.7,673.7" fill="none" stroke="#e0363f" stroke-width="4.2" stroke-linejoin="round" stroke-linecap="round"/>
<circle cx="1517.5" cy="117" r="4.6" fill="#e0363f"/>
<circle cx="1521" cy="128" r="4.6" fill="#e0363f"/>
<circle cx="1525" cy="140" r="4.6" fill="#e0363f"/>
<circle cx="1530" cy="155" r="4.6" fill="#e0363f"/>
<circle cx="1535" cy="168" r="4.6" fill="#e0363f"/>
<circle cx="1539.4" cy="182.2" r="4.6" fill="#e0363f"/>
<circle cx="1546" cy="205" r="4.6" fill="#e0363f"/>
<circle cx="1553.7" cy="228.4" r="4.6" fill="#e0363f"/>
<circle cx="1564.7" cy="263.5" r="4.6" fill="#e0363f"/>
<circle cx="1582.2" cy="316.2" r="4.6" fill="#e0363f"/>
<circle cx="1613.6" cy="390" r="4.6" fill="#e0363f"/>
<circle cx="1664.1" cy="484.2" r="4.6" fill="#e0363f"/>
<circle cx="1750.1" cy="597.5" r="4.6" fill="#e0363f"/>
<circle cx="1890.7" cy="694.4" r="4.6" fill="#e0363f"/>
<circle cx="2072.4" cy="728.4" r="4.6" fill="#e0363f"/>
<circle cx="2258.7" cy="673.7" r="4.6" fill="#e0363f"/>
<polyline points="1514,132 1520,133 1527,132 1535,131 1543.8,130.6 1548,140 1553.7,153.7 1560,166 1566,176 1573,187 1580,200 1586.6,213 1598.7,227.3 1611.9,247 1627.3,270.1 1649.2,296.5 1677.8,331.4 1710.5,371 1755.6,418.7 1822.4,470.6 1911.1,511.5 2021.5,513.8 2128.6,461.9 2207.3,371.1 2255.7,278.8" fill="none" stroke="#1f68cf" stroke-width="4.2" stroke-linejoin="round" stroke-linecap="round"/>
<polygon points="1514,125.6 1508.1,136.2 1519.9,136.2" fill="#1f68cf"/>
<polygon points="1520,126.6 1514.1,137.2 1525.9,137.2" fill="#1f68cf"/>
<polygon points="1527,125.6 1521.1,136.2 1532.9,136.2" fill="#1f68cf"/>
<polygon points="1535,124.6 1529.1,135.2 1540.9,135.2" fill="#1f68cf"/>
<polygon points="1543.8,124.2 1537.9,134.8 1549.7,134.8" fill="#1f68cf"/>
<polygon points="1548,133.6 1542.1,144.2 1553.9,144.2" fill="#1f68cf"/>
<polygon points="1553.7,147.3 1547.8,157.9 1559.6,157.9" fill="#1f68cf"/>
<polygon points="1560,159.6 1554.1,170.2 1565.9,170.2" fill="#1f68cf"/>
<polygon points="1566,169.6 1560.1,180.2 1571.9,180.2" fill="#1f68cf"/>
<polygon points="1573,180.6 1567.1,191.2 1578.9,191.2" fill="#1f68cf"/>
<polygon points="1580,193.6 1574.1,204.2 1585.9,204.2" fill="#1f68cf"/>
<polygon points="1586.6,206.6 1580.7,217.2 1592.5,217.2" fill="#1f68cf"/>
<polygon points="1598.7,220.9 1592.8,231.5 1604.6,231.5" fill="#1f68cf"/>
<polygon points="1611.9,240.6 1606,251.2 1617.8,251.2" fill="#1f68cf"/>
<polygon points="1627.3,263.7 1621.4,274.3 1633.2,274.3" fill="#1f68cf"/>
<polygon points="1649.2,290.1 1643.3,300.7 1655.1,300.7" fill="#1f68cf"/>
<polygon points="1677.8,325 1671.9,335.6 1683.7,335.6" fill="#1f68cf"/>
<polygon points="1710.5,364.6 1704.6,375.2 1716.4,375.2" fill="#1f68cf"/>
<polygon points="1755.6,412.3 1749.7,422.9 1761.5,422.9" fill="#1f68cf"/>
<polygon points="1822.4,464.2 1816.5,474.8 1828.3,474.8" fill="#1f68cf"/>
<polygon points="1911.1,505.1 1905.2,515.7 1917,515.7" fill="#1f68cf"/>
<polygon points="2021.5,507.4 2015.6,518 2027.4,518" fill="#1f68cf"/>
<polygon points="2128.6,455.5 2122.7,466.1 2134.5,466.1" fill="#1f68cf"/>
<polygon points="2207.3,364.7 2201.4,375.3 2213.2,375.3" fill="#1f68cf"/>
<polygon points="2255.7,272.4 2249.8,283 2261.6,283" fill="#1f68cf"/>
<line x1="2088" y1="95" x2="2201" y2="95" stroke="#3f3f3f" stroke-width="5" />
<rect x="2140" y="90" width="10" height="10" fill="#3f3f3f"/>
<text x="2215.5" y="111.8" font-size="48" text-anchor="start" font-weight="bold" font-style="normal" fill="#444444" font-family='"Liberation Sans", Arial, Helvetica, sans-serif' >500 <tspan font-size="30" dy="-22">o</tspan><tspan dy="22">C</tspan></text>
<line x1="2088" y1="163.8" x2="2201" y2="163.8" stroke="#e0363f" stroke-width="5" />
<circle cx="2145" cy="163.8" r="5" fill="#e0363f"/>
<text x="2215.5" y="180.6" font-size="48" text-anchor="start" font-weight="bold" font-style="normal" fill="#d9434f" font-family='"Liberation Sans", Arial, Helvetica, sans-serif' >600 <tspan font-size="30" dy="-22">o</tspan><tspan dy="22">C</tspan></text>
<line x1="2088" y1="232.6" x2="2201" y2="232.6" stroke="#1f68cf" stroke-width="5" />
<polygon points="2145,226.8 2139.8,236.3 2150.2,236.3" fill="#1f68cf"/>
<text x="2215.5" y="249.4" font-size="48" text-anchor="start" font-weight="bold" font-style="normal" fill="#2a62b0" font-family='"Liberation Sans", Arial, Helvetica, sans-serif' >700 <tspan font-size="30" dy="-22">o</tspan><tspan dy="22">C</tspan></text>
<line x1="242.5" y1="1695.3" x2="255.5" y2="1695.3" stroke="#1c1c1c" stroke-width="3.2" />
<line x1="242.5" y1="1612.6" x2="249.5" y2="1612.6" stroke="#1c1c1c" stroke-width="3.2" />
<line x1="242.5" y1="1530" x2="255.5" y2="1530" stroke="#1c1c1c" stroke-width="3.2" />
<line x1="242.5" y1="1447.3" x2="249.5" y2="1447.3" stroke="#1c1c1c" stroke-width="3.2" />
<line x1="242.5" y1="1364.7" x2="255.5" y2="1364.7" stroke="#1c1c1c" stroke-width="3.2" />
<line x1="242.5" y1="1282" x2="249.5" y2="1282" stroke="#1c1c1c" stroke-width="3.2" />
<line x1="242.5" y1="1199.3" x2="255.5" y2="1199.3" stroke="#1c1c1c" stroke-width="3.2" />
<line x1="242.5" y1="1116.7" x2="249.5" y2="1116.7" stroke="#1c1c1c" stroke-width="3.2" />
<line x1="242.5" y1="1034" x2="255.5" y2="1034" stroke="#1c1c1c" stroke-width="3.2" />
<line x1="313.5" y1="1737.4" x2="313.5" y2="1724.4" stroke="#1c1c1c" stroke-width="3.2" />
<line x1="427.3" y1="1737.4" x2="427.3" y2="1730.4" stroke="#1c1c1c" stroke-width="3.2" />
<line x1="541" y1="1737.4" x2="541" y2="1724.4" stroke="#1c1c1c" stroke-width="3.2" />
<line x1="654.8" y1="1737.4" x2="654.8" y2="1730.4" stroke="#1c1c1c" stroke-width="3.2" />
<line x1="768.5" y1="1737.4" x2="768.5" y2="1724.4" stroke="#1c1c1c" stroke-width="3.2" />
<line x1="882.3" y1="1737.4" x2="882.3" y2="1730.4" stroke="#1c1c1c" stroke-width="3.2" />
<line x1="996.1" y1="1737.4" x2="996.1" y2="1724.4" stroke="#1c1c1c" stroke-width="3.2" />
<line x1="1109.8" y1="1737.4" x2="1109.8" y2="1730.4" stroke="#1c1c1c" stroke-width="3.2" />
<rect x="242.5" y="992.6" width="923.8" height="744.8" fill="none" stroke="#1c1c1c" stroke-width="4.4"/>
<text x="224.8" y="1710.3" font-size="49" text-anchor="end" font-weight="normal" font-style="normal" fill="#1c1c1c" font-family='"Liberation Sans", Arial, Helvetica, sans-serif' >0</text>
<text x="224.8" y="1545" font-size="49" text-anchor="end" font-weight="normal" font-style="normal" fill="#1c1c1c" font-family='"Liberation Sans", Arial, Helvetica, sans-serif' >4000</text>
<text x="224.8" y="1379.7" font-size="49" text-anchor="end" font-weight="normal" font-style="normal" fill="#1c1c1c" font-family='"Liberation Sans", Arial, Helvetica, sans-serif' >8000</text>
<text x="224.8" y="1214.3" font-size="49" text-anchor="end" font-weight="normal" font-style="normal" fill="#1c1c1c" font-family='"Liberation Sans", Arial, Helvetica, sans-serif' >12000</text>
<text x="224.8" y="1049" font-size="49" text-anchor="end" font-weight="normal" font-style="normal" fill="#1c1c1c" font-family='"Liberation Sans", Arial, Helvetica, sans-serif' >16000</text>
<text x="313.5" y="1791.2" font-size="49" text-anchor="middle" font-weight="normal" font-style="normal" fill="#1c1c1c" font-family='"Liberation Sans", Arial, Helvetica, sans-serif' >0</text>
<text x="541" y="1791.2" font-size="49" text-anchor="middle" font-weight="normal" font-style="normal" fill="#1c1c1c" font-family='"Liberation Sans", Arial, Helvetica, sans-serif' >8000</text>
<text x="768.5" y="1791.2" font-size="49" text-anchor="middle" font-weight="normal" font-style="normal" fill="#1c1c1c" font-family='"Liberation Sans", Arial, Helvetica, sans-serif' >16000</text>
<text x="996.1" y="1791.2" font-size="49" text-anchor="middle" font-weight="normal" font-style="normal" fill="#1c1c1c" font-family='"Liberation Sans", Arial, Helvetica, sans-serif' >24000</text>
<text x="704" y="1858.4" font-size="58" text-anchor="middle" font-weight="normal" font-style="normal" fill="#1c1c1c" font-family='"Liberation Sans", Arial, Helvetica, sans-serif' ><tspan font-style="italic">Z'</tspan> (Ohm)</text>
<text transform="translate(77,1365) rotate(-90)" font-size="58" text-anchor="middle" fill="#1c1c1c" font-family='"Liberation Sans", Arial, Helvetica, sans-serif'><tspan font-style="italic">Z''</tspan> (Ohm)</text>
<text x="20" y="1038" font-size="64" text-anchor="start" font-weight="normal" font-style="normal" fill="#1c1c1c" font-family='"Liberation Sans", Arial, Helvetica, sans-serif' >(c)</text>
<polyline points="525.4,1359.8 439.5,1408.4 383.4,1474.4 348.5,1539.2 332.3,1589 324,1618 319,1645 316,1668 314,1690" fill="none" stroke="#3f3f3f" stroke-width="5" stroke-linejoin="round" stroke-linecap="round"/>
<circle cx="525.4" cy="1359.8" r="6.5" fill="#3f3f3f"/>
<circle cx="439.5" cy="1408.4" r="6.5" fill="#3f3f3f"/>
<circle cx="383.4" cy="1474.4" r="6.5" fill="#3f3f3f"/>
<circle cx="348.5" cy="1539.2" r="6.5" fill="#3f3f3f"/>
<circle cx="332.3" cy="1589" r="6.5" fill="#3f3f3f"/>
<circle cx="324" cy="1618" r="6.5" fill="#3f3f3f"/>
<circle cx="319" cy="1645" r="6.5" fill="#3f3f3f"/>
<circle cx="316" cy="1668" r="6.5" fill="#3f3f3f"/>
<circle cx="314" cy="1690" r="6.5" fill="#3f3f3f"/>
<polyline points="408.3,1471.9 366,1524.3 337.3,1579 326.1,1616.4 319.9,1643.9 314.9,1668.8 313.6,1693.7" fill="none" stroke="#e0363f" stroke-width="5" stroke-linejoin="round" stroke-linecap="round"/>
<circle cx="408.3" cy="1471.9" r="6.5" fill="#e0363f"/>
<circle cx="366" cy="1524.3" r="6.5" fill="#e0363f"/>
<circle cx="337.3" cy="1579" r="6.5" fill="#e0363f"/>
<circle cx="326.1" cy="1616.4" r="6.5" fill="#e0363f"/>
<circle cx="319.9" cy="1643.9" r="6.5" fill="#e0363f"/>
<circle cx="314.9" cy="1668.8" r="6.5" fill="#e0363f"/>
<circle cx="313.6" cy="1693.7" r="6.5" fill="#e0363f"/>
<polyline points="1073.8,1075.2 924.8,1103.6 794.2,1178.8 689.2,1261.2 615.4,1352 565.3,1428.3 526.7,1490.6 499.3,1533 479.3,1564.1 463.1,1586.5 446.9,1599 432,1604 414.6,1609 397.1,1614 379.7,1621.4 362.2,1631.4 349.8,1641.4 339.8,1651.3 329.8,1661.3 321.1,1678.7" fill="none" stroke="#1f68cf" stroke-width="5" stroke-linejoin="round" stroke-linecap="round"/>
<circle cx="1078" cy="1083.7" r="6.5" fill="#1f68cf"/>
<circle cx="924.8" cy="1103.6" r="6.5" fill="#1f68cf"/>
<circle cx="794.2" cy="1178.8" r="6.5" fill="#1f68cf"/>
<circle cx="689.2" cy="1261.2" r="6.5" fill="#1f68cf"/>
<circle cx="615.4" cy="1352" r="6.5" fill="#1f68cf"/>
<circle cx="565.3" cy="1428.3" r="6.5" fill="#1f68cf"/>
<circle cx="526.7" cy="1490.6" r="6.5" fill="#1f68cf"/>
<circle cx="499.3" cy="1533" r="6.5" fill="#1f68cf"/>
<circle cx="479.3" cy="1564.1" r="6.5" fill="#1f68cf"/>
<circle cx="463.1" cy="1586.5" r="6.5" fill="#1f68cf"/>
<circle cx="446.9" cy="1599" r="6.5" fill="#1f68cf"/>
<circle cx="432" cy="1604" r="6.5" fill="#1f68cf"/>
<circle cx="414.6" cy="1609" r="6.5" fill="#1f68cf"/>
<circle cx="397.1" cy="1614" r="6.5" fill="#1f68cf"/>
<circle cx="379.7" cy="1621.4" r="6.5" fill="#1f68cf"/>
<circle cx="362.2" cy="1631.4" r="6.5" fill="#1f68cf"/>
<circle cx="349.8" cy="1641.4" r="6.5" fill="#1f68cf"/>
<circle cx="339.8" cy="1651.3" r="6.5" fill="#1f68cf"/>
<circle cx="329.8" cy="1661.3" r="6.5" fill="#1f68cf"/>
<circle cx="321.1" cy="1678.7" r="6.5" fill="#1f68cf"/>
<circle cx="1074" cy="1076" r="6.5" fill="#1f68cf"/>
<text x="269" y="1044.6" font-size="48" text-anchor="start" font-weight="bold" font-style="normal" fill="#444444" font-family='"Liberation Sans", Arial, Helvetica, sans-serif' >500 <tspan font-size="30" dy="-22">o</tspan><tspan dy="22">C</tspan></text>
<text x="269" y="1111.6" font-size="48" text-anchor="start" font-weight="bold" font-style="normal" fill="#d9434f" font-family='"Liberation Sans", Arial, Helvetica, sans-serif' >600 <tspan font-size="30" dy="-22">o</tspan><tspan dy="22">C</tspan></text>
<text x="269" y="1178.6" font-size="48" text-anchor="start" font-weight="bold" font-style="normal" fill="#2a62b0" font-family='"Liberation Sans", Arial, Helvetica, sans-serif' >700 <tspan font-size="30" dy="-22">o</tspan><tspan dy="22">C</tspan></text>
<circle cx="320" cy="1223.5" r="8.5" fill="#444"/>
<text x="387" y="1238.4" font-size="45" text-anchor="start" font-weight="normal" font-style="normal" fill="#2a2a2a" font-family='"Liberation Sans", Arial, Helvetica, sans-serif' textLength="327" lengthAdjust="spacing">Measured data</text>
<line x1="264" y1="1283" x2="377" y2="1283" stroke="#444" stroke-width="5" />
<text x="387" y="1299" font-size="45" text-anchor="start" font-weight="normal" font-style="normal" fill="#2a2a2a" font-family='"Liberation Sans", Arial, Helvetica, sans-serif' textLength="231" lengthAdjust="spacing">Fitted data</text>
<text x="434" y="1686" font-size="33" text-anchor="start" font-weight="normal" font-style="normal" fill="#333" font-family='"Liberation Sans", Arial, Helvetica, sans-serif' textLength="336" lengthAdjust="spacing">@ -0.5 V <tspan font-style="italic">vs.</tspan> Ag/AgCl</text>
</svg></body></html>
